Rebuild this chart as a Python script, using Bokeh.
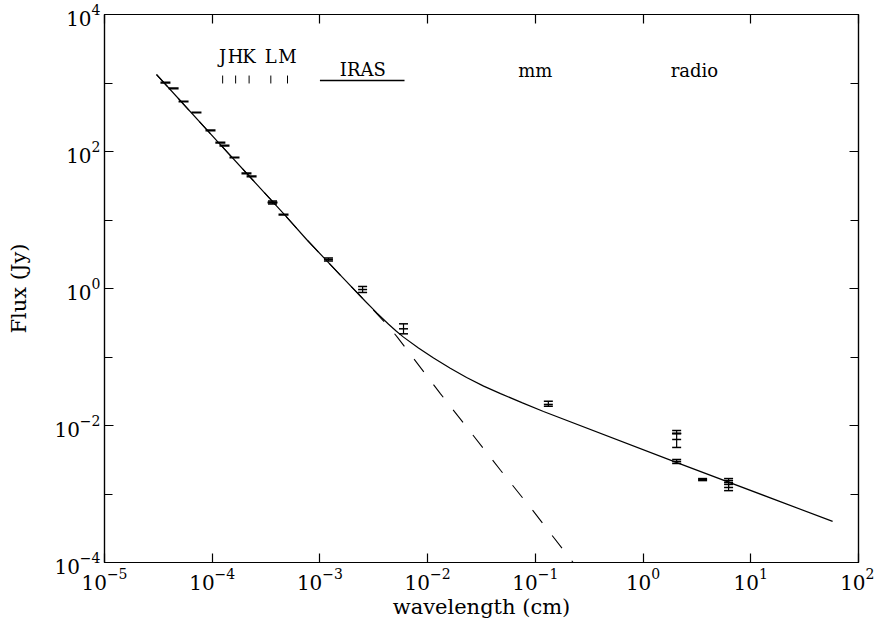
from bokeh.plotting import figure
from bokeh.models import (LogAxis, FixedTicker, ColumnDataSource, Whisker, TeeHead, Range1d)
from bokeh.embed import file_html
from bokeh.resources import INLINE
from bokeh.core.properties import value

# ---------------- data ----------------
x_ticks = [1e-5, 1e-4, 1e-3, 1e-2, 1e-1, 1e0, 1e1, 1e2]
y_label_ticks = [1e-4, 1e-2, 1e0, 1e2, 1e4]
y_minor_ticks = [1e-3, 1e-1, 1e1, 1e3]

# model: photosphere + wind (solid)
model_wl = [3.04e-5, 1.19e-4, 4.69e-4, 7.52e-4, 1.62e-3, 2.65e-3, 3.39e-3, 4.34e-3,
            5.13e-3, 5.97e-3, 8.22e-3, 1.135e-2, 1.622e-2, 2.30e-2, 3.311e-2, 4.75e-2,
            7.59e-2, 0.119, 2.09, 57.5]
model_flux = [1330, 126, 12.0, 5.19, 1.45, 0.646, 0.4365, 0.3006,
              0.2371, 0.195, 0.1355, 0.0966, 0.0684, 0.0501, 0.0376, 0.0292,
              0.0214, 0.01603, 0.00285, 3.98e-4]

# photosphere only (dashed)
phot_wl = [3.04e-5, 1.19e-4, 4.69e-4, 7.52e-4, 1.62e-3, 2.65e-3, 4.34e-3, 5.25e-3,
           6.50e-3, 1.318e-2, 4.75e-2, 0.0942, 0.231]
phot_flux = [1330, 126, 12.0, 5.19, 1.45, 0.646, 0.279, 0.1936,
             0.1245, 0.0290, 0.00222, 5.8e-4, 9.4e-5]

# optical / near-IR photometry
nir_wl = [3.68e-5, 4.38e-5, 5.42e-5, 7.14e-5, 9.64e-5, 1.19e-4, 1.30e-4, 1.61e-4,
          2.08e-4, 2.32e-4, 3.63e-4, 4.59e-4]
nir_flux = [1016, 832, 537, 371, 203, 135, 122, 81.7, 47.8, 43.2, 18.0, 12.0]

# IR / mm / radio photometry with error bars
obs_wl = [3.63e-4, 1.20e-3, 2.49e-3, 5.97e-3, 0.132, 2.05, 2.05, 2.05, 3.57, 6.22, 6.22]
obs_flux = [18.0, 2.65, 0.966, 0.258, 0.0203, 0.00625, 0.00764, 0.00298, 0.00163, 0.00138, 0.00147]
obs_lo = [17.1, 2.52, 0.875, 0.218, 0.0191, 0.00478, 0.00764, 0.00279, 0.00157, 0.00112, 0.001245]
obs_hi = [18.9, 2.79, 1.07, 0.305, 0.0226, 0.00845, 0.00764, 0.00319, 0.00168, 0.00168, 0.00157]

band_names = ["J", "H", "K", "L", "M"]
band_wl = [1.25e-4, 1.65e-4, 2.2e-4, 3.5e-4, 5.0e-4]
iras_range = [1.0e-3, 6.1e-3]
region_names = ["IRAS", "mm", "radio"]
region_wl = [2.5e-3, 0.1, 3.0]

FONT = "DejaVu Serif"

p = figure(frame_width=754, frame_height=548, x_axis_type="log", y_axis_type="log",
           x_range=Range1d(1e-5, 1e2), y_range=Range1d(1e-4, 1e4),
           output_backend="svg", toolbar_location=None,
           min_border_left=104, min_border_right=16, min_border_top=14, min_border_bottom=57,
           background_fill_color="white", border_fill_color="white")
p.xgrid.grid_line_color = None
p.ygrid.grid_line_color = None
p.outline_line_color = "black"
p.outline_line_width = 1.2

def style_axis(ax, ticks, minor=None, labels=True):
    ax.ticker = FixedTicker(ticks=ticks, minor_ticks=minor or [])
    ax.major_tick_in = 9
    ax.major_tick_out = 0
    ax.minor_tick_in = 8
    ax.minor_tick_out = 0
    ax.axis_line_color = "black"
    ax.axis_line_width = 1.2
    ax.major_tick_line_width = 1.2
    ax.minor_tick_line_width = 1.2
    ax.major_tick_line_color = "black"
    ax.minor_tick_line_color = "black"
    if labels:
        ax.major_label_text_font = FONT
        ax.major_label_text_font_size = "20px"
        ax.major_label_text_color = "black"
        ax.axis_label_text_font = FONT
        ax.axis_label_text_font_size = "21px"
        ax.axis_label_text_font_style = "normal"
        ax.axis_label_text_color = "black"
    else:
        ax.major_label_text_font_size = "1px"
        ax.major_label_text_alpha = 0
        ax.major_label_standoff = 0

xa = p.xaxis[0]
style_axis(xa, x_ticks)
xa.axis_label = "wavelength (cm)"
xa.major_label_standoff = 5
xa.axis_label_standoff = 2

ya = p.yaxis[0]
style_axis(ya, y_label_ticks, y_minor_ticks)
ya.axis_label = "Flux (Jy)"
ya.major_label_standoff = 4
ya.axis_label_standoff = 20

top = LogAxis()
style_axis(top, x_ticks, labels=False)
p.add_layout(top, "above")
right = LogAxis()
style_axis(right, y_label_ticks, y_minor_ticks, labels=False)
p.add_layout(right, "right")

# curves
p.line(model_wl, model_flux, line_color="black", line_width=1.2)
p.line(phot_wl, phot_flux, line_color="black", line_width=1.1, line_dash="16 16")

# photometry
p.scatter(nir_wl, nir_flux, marker="dash", size=10, line_color="black", line_width=2.2)
src = ColumnDataSource(dict(wl=obs_wl, f=obs_flux, lo=obs_lo, hi=obs_hi))
p.add_layout(Whisker(source=src, base="wl", lower="lo", upper="hi", dimension="height",
                     line_color="black", line_width=1.2,
                     lower_head=TeeHead(size=9, line_color="black", line_width=1.5),
                     upper_head=TeeHead(size=9, line_color="black", line_width=1.5)))
p.scatter("wl", "f", source=src, marker="dash", size=9, line_color="black", line_width=1.5)

# band markers
p.text(band_wl, [2440] * len(band_wl), text=band_names, text_font=value(FONT),
       text_font_size="18px", text_align="center", text_baseline="middle", text_color="black")
p.segment(band_wl, [984] * len(band_wl), band_wl, [1285] * len(band_wl),
          line_color="black", line_width=1)
p.segment([iras_range[0]], [1087], [iras_range[1]], [1087], line_color="black", line_width=1.6)
p.text(region_wl, [1560, 1530, 1530], text=region_names, text_font=value(FONT),
       text_font_size="18px", text_align="center", text_baseline="middle", text_color="black")

open("out.html", "w").write(file_html(p, INLINE))
